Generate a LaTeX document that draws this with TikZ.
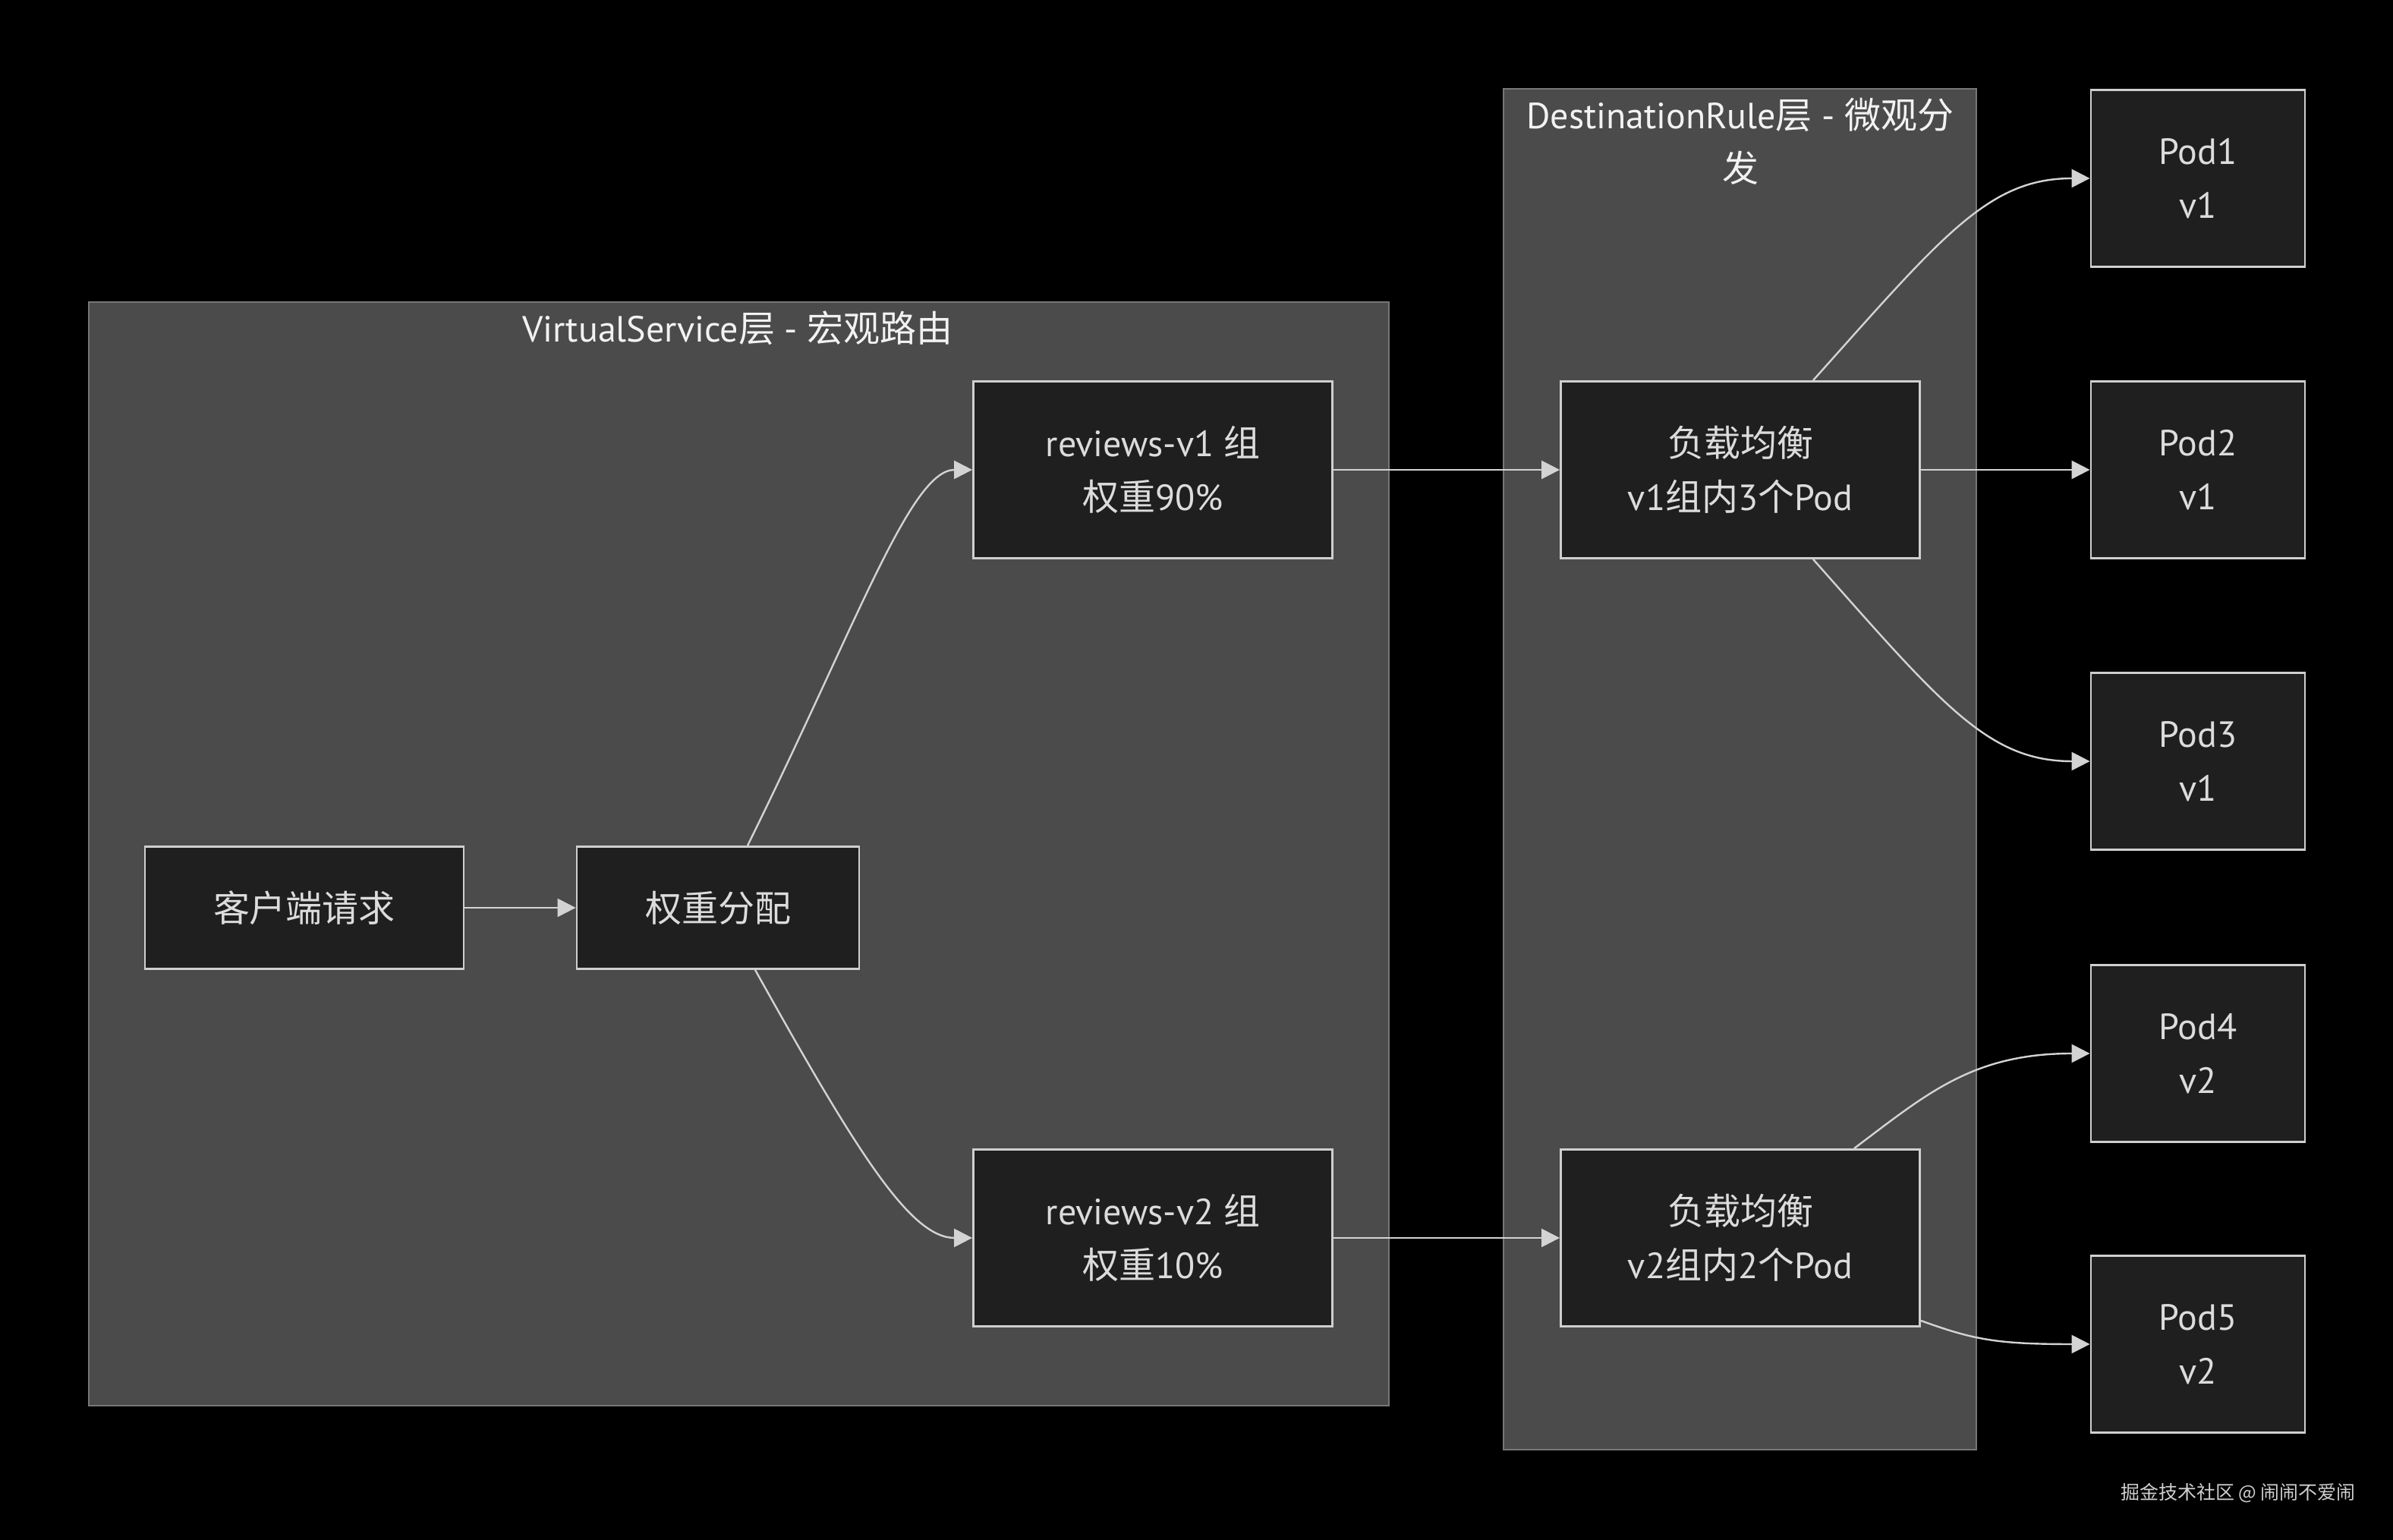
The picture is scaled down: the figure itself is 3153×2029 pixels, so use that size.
\documentclass[tikz,border=0pt]{standalone}
\usepackage{fontspec}
\setmainfont{PT Sans}
\newfontfamily\cjkfont{Noto Sans CJK SC}
\newcommand\zh[1]{{\cjkfont #1}}
\usetikzlibrary{arrows.meta,calc}
\definecolor{clusterfill}{HTML}{4A4B4A}
\definecolor{clusterline}{HTML}{767676}
\definecolor{boxfill}{HTML}{1F1F1F}
\definecolor{boxline}{HTML}{CFCFCF}
\definecolor{boxtext}{HTML}{DCDCDC}
\definecolor{titletext}{HTML}{F2F2F2}
\definecolor{linecol}{HTML}{D3D3D3}
\begin{document}
\begin{tikzpicture}[x=0.25pt,y=-0.25pt,
 cluster/.style={draw=clusterline, fill=clusterfill, line width=0.5pt},
 clustertitle/.style={text=titletext, align=center, inner sep=0pt, font=\fontsize{12}{17.5}\selectfont},
 box/.style={draw=boxline, fill=boxfill, line width=0.7pt, text=boxtext, align=center, inner sep=0pt, font=\fontsize{12}{17.75}\selectfont},
 bigbox/.style={box, minimum width=118.25pt, minimum height=58.25pt},
 podbox/.style={box, minimum width=70.5pt, minimum height=58.25pt},
 conn/.style={draw=linecol, line width=0.6pt, -{Triangle[length=6pt,width=6pt]}},
]
\fill[black] (0,0) rectangle (3153,2029);
\useasboundingbox (0,0) rectangle (3153,2029);

% clusters
\draw[cluster] (117,398) rectangle (1830,1852);
\draw[cluster] (1981,117) rectangle (2604,1910);
\node[clustertitle] (vstitle) at (972,432) {VirtualService\zh{层} - \zh{宏观路由}};
\node[clustertitle] (drtitle) at (2293,186) {DestinationRule\zh{层} - \zh{微观分}\\\zh{发}};

% nodes
\node[box, minimum width=105pt, minimum height=40.25pt] (client) at (401,1196) {\zh{客户端请求}};
\node[box, minimum width=93pt, minimum height=40.25pt] (weight) at (946,1196) {\zh{权重分配}};
\node[bigbox] (v1) at (1519,619) {reviews-v1 \zh{组}\\\zh{权重}90\%};
\node[bigbox] (v2) at (1519,1631) {reviews-v2 \zh{组}\\\zh{权重}10\%};
\node[bigbox] (lb1) at (2293,619) {\zh{负载均衡}\\v1\zh{组内}3\zh{个}Pod};
\node[bigbox] (lb2) at (2293,1631) {\zh{负载均衡}\\v2\zh{组内}2\zh{个}Pod};
\node[podbox] (pod1) at (2896,235) {Pod1\\v1};
\node[podbox] (pod2) at (2896,619) {Pod2\\v1};
\node[podbox] (pod3) at (2896,1003) {Pod3\\v1};
\node[podbox] (pod4) at (2896,1388) {Pod4\\v2};
\node[podbox] (pod5) at (2896,1771) {Pod5\\v2};

% connectors
\draw[conn] (client) -- (weight);
\draw[conn] ($(weight.north)+(39,0)$) .. controls (1130,820) and (1200,619) .. (v1.west);
\draw[conn] ($(weight.south)+(49,0)$) .. controls (1130,1520) and (1200,1631) .. (v2.west);
\draw[conn] (v1) -- (lb1);
\draw[conn] (v2) -- (lb2);
\draw[conn] ($(lb1.north)+(96,0)$) .. controls (2560,310) and (2620,235) .. (pod1.west);
\draw[conn] (lb1) -- (pod2);
\draw[conn] ($(lb1.south)+(96,0)$) .. controls (2560,930) and (2620,1003) .. (pod3.west);
\draw[conn] ($(lb2.north)+(150,0)$) .. controls (2540,1440) and (2600,1388) .. (pod4.west);
\draw[conn] ($(lb2.east)+(0,109)$) .. controls (2600,1765) and (2630,1771) .. (pod5.west);

% watermark
\node[text=boxline, inner sep=0pt, font=\cjkfont\fontsize{6.25}{7}\selectfont] (mark) at (2949,1967) {掘金技术社区 @ 闹闹不爱闹};
\end{tikzpicture}
\end{document}
